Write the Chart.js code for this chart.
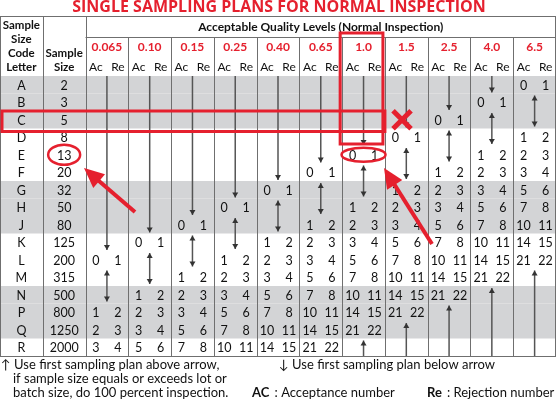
<!DOCTYPE html>
<html>
<head>
<meta charset="utf-8">
<script src="https://cdn.jsdelivr.net/npm/chart.js@4/dist/chart.umd.min.js"></script>
<style>
  html, body { margin: 0; padding: 0; background: #fff; }
  #wrap { width: 556px; height: 400px; }
</style>
</head>
<body>
<div id="wrap"><canvas id="tbl"></canvas></div>
<script>
// rows of the table
const codeLetters = ['A','B','C','D','E','F','G','H','J','K','L','M','N','P','Q','R'];
const sampleSizes = ['2','3','5','8','13','20','32','50','80','125','200','315','500','800','1250','2000'];
const aqlLevels = ['0.065','0.10','0.15','0.25','0.40','0.65','1.0','1.5','2.5','4.0','6.5'];

// "Ac Re" per row, '' where the cell holds an arrow
const _ = '';
const aql0065 = [_,_,_,_,_,_,_,_,_,_,'0 1',_,_,'1 2','2 3','3 4'];
const aql010  = [_,_,_,_,_,_,_,_,_,'0 1',_,_,'1 2','2 3','3 4','5 6'];
const aql015  = [_,_,_,_,_,_,_,_,'0 1',_,_,'1 2','2 3','3 4','5 6','7 8'];
const aql025  = [_,_,_,_,_,_,_,'0 1',_,_,'1 2','2 3','3 4','5 6','7 8','10 11'];
const aql040  = [_,_,_,_,_,_,'0 1',_,_,'1 2','2 3','3 4','5 6','7 8','10 11','14 15'];
const aql065  = [_,_,_,_,_,'0 1',_,_,'1 2','2 3','3 4','5 6','7 8','10 11','14 15','21 22'];
const aql10   = [_,_,_,_,'0 1',_,_,'1 2','2 3','3 4','5 6','7 8','10 11','14 15','21 22',_];
const aql15   = [_,_,_,'0 1',_,_,'1 2','2 3','3 4','5 6','7 8','10 11','14 15','21 22',_,_];
const aql25   = [_,_,'0 1',_,_,'1 2','2 3','3 4','5 6','7 8','10 11','14 15','21 22',_,_,_];
const aql40   = [_,'0 1',_,_,'1 2','2 3','3 4','5 6','7 8','10 11','14 15','21 22',_,_,_,_];
const aql65   = ['0 1',_,_,'1 2','2 3','3 4','5 6','7 8','10 11','14 15','21 22',_,_,_,_,_];
const columns = [aql0065, aql010, aql015, aql025, aql040, aql065, aql10, aql15, aql25, aql40, aql65];

const grayRows = [0,1,2,6,7,8,12,13,14]; // shaded bands
const RED = '#e5202e';
const FONT = 'Lato, "Noto Sans", sans-serif';

// one invisible point per filled cell so the scales carry the grid
const cellPoints = [];
columns.forEach((col, c) => col.forEach((v, r) => { if (v) cellPoints.push({ x: c + 2.5, y: codeLetters[r], t: v }); }));
codeLetters.forEach((l, r) => {
  cellPoints.push({ x: 0.5, y: l, t: l });
  cellPoints.push({ x: 1.5, y: l, t: sampleSizes[r] });
});

function arrow(ctx, x, y1, y2, headTop, headBottom) {
  ctx.beginPath(); ctx.moveTo(x, y1); ctx.lineTo(x, y2); ctx.stroke();
  const h = 5, w = 3;
  if (headTop) { ctx.beginPath(); ctx.moveTo(x, y1); ctx.lineTo(x - w, y1 + h); ctx.lineTo(x + w, y1 + h); ctx.fill(); }
  if (headBottom) { ctx.beginPath(); ctx.moveTo(x, y2); ctx.lineTo(x - w, y2 - h); ctx.lineTo(x + w, y2 - h); ctx.fill(); }
}

function redArrow(ctx, x1, y1, x2, y2) {
  const a = Math.atan2(y2 - y1, x2 - x1);
  ctx.strokeStyle = RED; ctx.fillStyle = RED; ctx.lineWidth = 4;
  ctx.beginPath(); ctx.moveTo(x1, y1); ctx.lineTo(x2 - 14 * Math.cos(a), y2 - 14 * Math.sin(a)); ctx.stroke();
  ctx.beginPath(); ctx.moveTo(x2, y2);
  ctx.lineTo(x2 - 20 * Math.cos(a) + 9 * Math.sin(a), y2 - 20 * Math.sin(a) - 9 * Math.cos(a));
  ctx.lineTo(x2 - 20 * Math.cos(a) - 9 * Math.sin(a), y2 - 20 * Math.sin(a) + 9 * Math.cos(a));
  ctx.closePath(); ctx.fill();
}

const tablePlugin = {
  id: 'tablePlugin',
  beforeDatasetsDraw(chart) {
    const { ctx, chartArea: ca, scales: { x, y } } = chart;
    const rowH = y.getPixelForValue(1) - y.getPixelForValue(0);
    const rowTop = r => y.getPixelForValue(r) - rowH / 2;
    ctx.save();
    // bands
    ctx.fillStyle = '#d3d4d6';
    grayRows.forEach(r => ctx.fillRect(ca.left, rowTop(r), ca.width, rowH));
    // grid
    ctx.strokeStyle = '#6f6f6f'; ctx.lineWidth = 1;
    const top = 16;
    ctx.strokeRect(ca.left + 0.5, top + 0.5, ca.width - 1, ca.bottom - top);
    for (let c = 1; c < 13; c++) {
      const px = Math.round(x.getPixelForValue(c)) + 0.5;
      ctx.beginPath(); ctx.moveTo(px, c <= 2 ? top : 37); ctx.lineTo(px, ca.bottom); ctx.stroke();
    }
    ctx.beginPath(); ctx.moveTo(x.getPixelForValue(2), 37.5); ctx.lineTo(ca.right, 37.5); ctx.stroke();
    ctx.beginPath(); ctx.moveTo(ca.left, ca.bottom + 0.5); ctx.lineTo(ca.right, ca.bottom + 0.5); ctx.stroke();

    // headers
    ctx.fillStyle = RED; ctx.textAlign = 'center'; ctx.textBaseline = 'middle';
    ctx.font = 'bold 16px "Open Sans", sans-serif';
    ctx.fillText('SINGLE SAMPLING PLANS FOR NORMAL INSPECTION', 279, 7);
    ctx.fillStyle = '#111';
    ctx.font = 'bold 11.5px ' + FONT;
    ['Sample','Size','Code','Letter'].forEach((t, i) => ctx.fillText(t, x.getPixelForValue(0.5), 25 + i * 14));
    ['Sample','Size'].forEach((t, i) => ctx.fillText(t, x.getPixelForValue(1.5), 53 + i * 14));
    ctx.font = 'bold 12px ' + FONT;
    ctx.fillText('Acceptable Quality Levels (Normal Inspection)', x.getPixelForValue(7.5), 27);
    aqlLevels.forEach((a, i) => {
      const cx = x.getPixelForValue(i + 2.5);
      ctx.fillStyle = RED; ctx.font = 'bold 12px ' + FONT; ctx.fillText(a, cx, 47);
      ctx.fillStyle = '#111'; ctx.font = '12px ' + FONT;
      ctx.fillText('Ac', cx - 11, 67); ctx.fillText('Re', cx + 11, 67);
    });

    // cells
    ctx.font = '12.5px ' + FONT;
    chart.data.datasets[0].data.forEach(p => {
      const px = x.getPixelForValue(p.x), py = y.getPixelForValue(codeLetters.indexOf(p.y)) + 1;
      if (p.x < 2) { ctx.fillText(p.t, px, py); return; }
      const [ac, re] = p.t.split(' ');
      ctx.fillText(ac, px - 11, py); ctx.fillText(re, px + 11, py);
    });

    // arrows
    ctx.strokeStyle = '#555'; ctx.fillStyle = '#333'; ctx.lineWidth = 1.5;
    columns.forEach((col, c) => {
      const px = x.getPixelForValue(c + 2.5);
      const first = col.findIndex(v => v);
      let last = col.length - 1; while (!col[last]) last--;
      if (first > 0) arrow(ctx, px, ca.top, rowTop(first) - 1, false, true);
      for (let r = first + 1; r < last; r++) {
        if (!col[r]) {
          let e = r; while (!col[e + 1]) e++;
          arrow(ctx, px, rowTop(r) + 2, rowTop(e + 1) - 2, true, true);
          r = e;
        }
      }
      if (last < col.length - 1) arrow(ctx, px, rowTop(last + 1) + 2, ca.bottom, true, false);
    });

    // footer
    ctx.fillStyle = '#111'; ctx.textAlign = 'left'; ctx.font = '13px ' + FONT;
    ctx.fillText('\u2191 Use first sampling plan above arrow,', 1, 365);
    ctx.fillText('if sample size equals or exceeds lot or', 13, 379);
    ctx.fillText('batch size, do 100 percent inspection.', 13, 393);
    ctx.fillText('\u2193 Use first sampling plan below arrow', 279, 365);
    ctx.font = 'bold 13px ' + FONT; ctx.fillText('AC', 252, 393);
    ctx.font = '13px ' + FONT; ctx.fillText(' : Acceptance number', 252 + ctx.measureText('AC').width + 2, 393);
    ctx.font = 'bold 13px ' + FONT; ctx.fillText('Re', 427, 393);
    ctx.font = '13px ' + FONT; ctx.fillText(' : Rejection number', 427 + ctx.measureText('Re').width + 2, 393);

    // red annotations
    ctx.strokeStyle = RED; ctx.lineWidth = 3;
    ctx.strokeRect(2, rowTop(2), x.getPixelForValue(9) - 2, rowH + 3);
    ctx.strokeRect(x.getPixelForValue(8) - 2, 33, x.getPixelForValue(9) - x.getPixelForValue(8), rowTop(4) - 33 - 2);
    ctx.lineWidth = 2.5;
    ctx.beginPath(); ctx.ellipse(x.getPixelForValue(1.5), y.getPixelForValue(4), 16, 10, 0, 0, Math.PI * 2); ctx.stroke();
    ctx.beginPath(); ctx.ellipse(x.getPixelForValue(8.5), y.getPixelForValue(4), 22, 7, 0, 0, Math.PI * 2); ctx.stroke();
    ctx.lineWidth = 5;
    const xc = x.getPixelForValue(9.4), yc = y.getPixelForValue(2);
    ctx.beginPath(); ctx.moveTo(xc - 9, yc - 9); ctx.lineTo(xc + 9, yc + 9); ctx.moveTo(xc + 9, yc - 9); ctx.lineTo(xc - 9, yc + 9); ctx.stroke();
    redArrow(ctx, 135, 212, 84, 168);
    redArrow(ctx, 432, 244, 384, 168);
    ctx.restore();
  }
};

new Chart(document.getElementById('tbl'), {
  type: 'scatter',
  data: { datasets: [{ data: cellPoints, pointRadius: 0, pointHoverRadius: 0 }] },
  options: {
    responsive: true,
    maintainAspectRatio: false,
    animation: false,
    events: [],
    layout: { padding: { top: 76, bottom: 44, left: 0, right: 0 } },
    plugins: { legend: { display: false }, tooltip: { enabled: false } },
    scales: {
      x: { type: 'linear', min: 0, max: 13, display: false },
      y: { type: 'category', labels: codeLetters, offset: true, display: false }
    }
  },
  plugins: [tablePlugin]
});
</script>
</body>
</html>
